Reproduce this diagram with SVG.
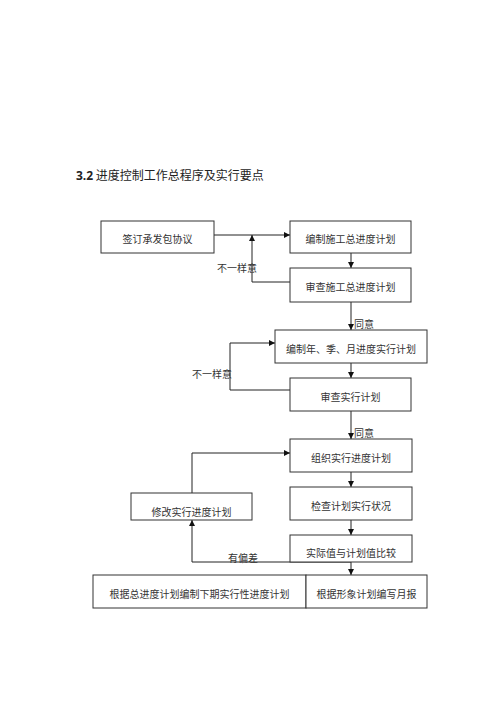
<svg xmlns="http://www.w3.org/2000/svg" width="500" height="707" viewBox="0 0 500 707">
<style>
.box{fill:#fff;stroke:#333;stroke-width:1}
.t{font-family:"Noto Sans CJK SC","Liberation Sans",sans-serif;font-size:10px;fill:#333;text-anchor:middle;dominant-baseline:central}
.l{font-family:"Noto Sans CJK SC","Liberation Sans",sans-serif;font-size:10px;fill:#333;dominant-baseline:central}
.c{fill:none;stroke:#222;stroke-width:1}
</style>
<defs>
<marker id="ah" viewBox="0 0 8 8" refX="8" refY="4" markerWidth="6" markerHeight="6" orient="auto" markerUnits="userSpaceOnUse">
<path d="M0,0 L8,4 L0,8 z" fill="#111"/>
</marker>
</defs>
<rect width="500" height="707" fill="#fff"/>
<text x="76" y="180" font-family="'Noto Sans CJK SC','Liberation Sans',sans-serif" font-size="12" fill="#222"><tspan font-weight="bold" font-family="'Open Sans','Liberation Sans',sans-serif">3.2</tspan> 进度控制工作总程序及实行要点</text>
<g id="connectors">
<path class="c" d="M214,235 H290" marker-end="url(#ah)"/>
<path class="c" d="M290,282 H252 V235" marker-end="url(#ah)"/>
<path class="c" d="M351,253 V268" marker-end="url(#ah)"/>
<path class="c" d="M351,302 V330" marker-end="url(#ah)"/>
<path class="c" d="M351,363 V378" marker-end="url(#ah)"/>
<path class="c" d="M290,390 H230 V343 H275" marker-end="url(#ah)"/>
<path class="c" d="M351,411 V439" marker-end="url(#ah)"/>
<path class="c" d="M351,472 V487" marker-end="url(#ah)"/>
<path class="c" d="M351,520 V535" marker-end="url(#ah)"/>
<path class="c" d="M192,493 V453 H290" marker-end="url(#ah)"/>
<path class="c" d="M351,562 H192 V520" marker-end="url(#ah)"/>
<path class="c" d="M351,562 V575" marker-end="url(#ah)"/>
<text class="l" x="217" y="267">不一样意</text>
<text class="l" x="354" y="323">同意</text>
<text class="l" x="192" y="373">不一样意</text>
<text class="l" x="354" y="432">同意</text>
<text class="l" x="228" y="557">有偏差</text>
</g>
<g id="n1"><rect class="box" x="101" y="221" width="113" height="32"/><text class="t" x="157.5" y="238">签订承发包协议</text></g>
<g id="n2"><rect class="box" x="290" y="221" width="121" height="32"/><text class="t" x="350.5" y="238">编制施工总进度计划</text></g>
<g id="n3"><rect class="box" x="290" y="268" width="121" height="34"/><text class="t" x="350.5" y="286">审查施工总进度计划</text></g>
<g id="n4"><rect class="box" x="275" y="330" width="152" height="33"/><text class="t" x="351" y="348">编制年、季、月进度实行计划</text></g>
<g id="n5"><rect class="box" x="290" y="378" width="121" height="33"/><text class="t" x="350.5" y="396">审查实行计划</text></g>
<g id="n6"><rect class="box" x="290" y="439" width="122" height="33"/><text class="t" x="351" y="457">组织实行进度计划</text></g>
<g id="n7"><rect class="box" x="290" y="487" width="122" height="33"/><text class="t" x="351" y="505">检查计划实行状况</text></g>
<g id="n8"><rect class="box" x="290" y="535" width="122" height="27"/><text class="t" x="351" y="552">实际值与计划值比较</text></g>
<g id="n9"><rect class="box" x="131" y="493" width="121" height="27"/><text class="t" x="191.5" y="511">修改实行进度计划</text></g>
<g id="n10"><rect class="box" x="93" y="575" width="213" height="33"/><text class="t" x="199.5" y="593">根据总进度计划编制下期实行性进度计划</text></g>
<g id="n11"><rect class="box" x="306" y="575" width="121" height="33"/><text class="t" x="366.5" y="593">根据形象计划编写月报</text></g>
</svg>
